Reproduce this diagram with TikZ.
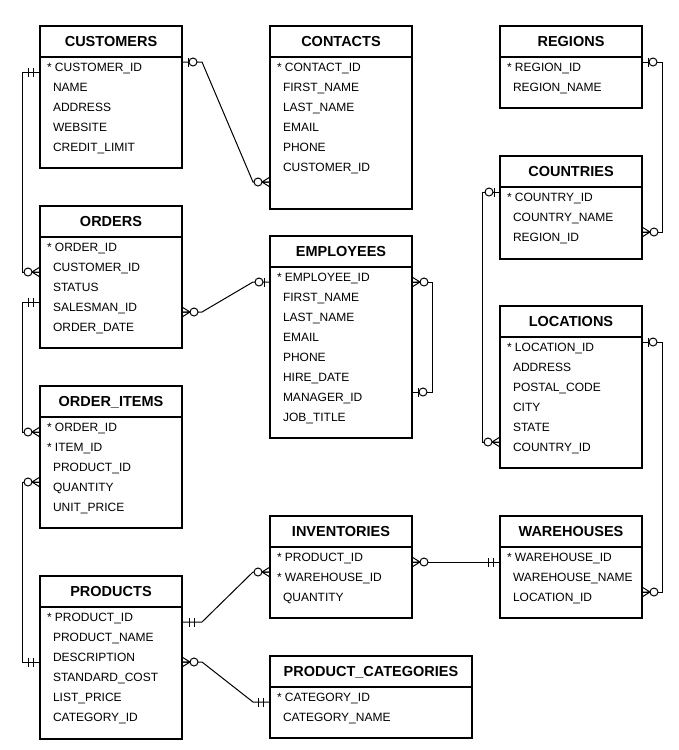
\documentclass[tikz,border=0pt]{standalone}
\usepackage{fontspec}
\setmainfont{Liberation Sans}
\usetikzlibrary{positioning,calc}

\newcommand{\clave}{{*}\ }
\newcommand{\campo}{\hspace*{6pt}}

\tikzset{
  titulo/.style={draw, line width=2pt, outer sep=0pt, inner sep=0pt, anchor=north west,
    minimum width=142pt, minimum height=31pt, text height=10.4pt, text depth=0pt,
    font=\fontsize{14.5}{16}\selectfont\bfseries},
  cuerpo/.style={draw, line width=2pt, outer sep=0pt, inner sep=0pt, minimum width=142pt},
  filas/.style={inner sep=0pt, outer sep=0pt, align=left, font=\fontsize{12}{20}\selectfont},
  rel/.style={line width=1pt},
  pics/muchos/.style={code={
    \draw[rel] (0,5) -- (8,0) -- (0,-5) (0,0) -- (8,0);
    \draw[rel, fill=white] (12,0) circle (4pt);
  }},
  pics/cerouno/.style={code={
    \draw[rel] (6,4.5) -- (6,-4.5);
    \draw[rel, fill=white] (11,0) circle (4pt);
  }},
  pics/unouno/.style={code={
    \draw[rel] (7,4.5) -- (7,-4.5) (12,4.5) -- (12,-4.5);
  }}
}

\begin{document}
\begin{tikzpicture}[x=1pt, y=-1pt]
        \useasboundingbox (0,0) rectangle (678,750);

        % Columna izquierda
        \node[titulo] (customers) at (40,26) {CUSTOMERS};
        \node[cuerpo, minimum height=111pt, below=0pt of customers] (customers-c) {};
        \node[filas, below right=6.5pt and 7pt of customers-c.north west] (customers-f)
            {\clave CUSTOMER\_ID\\ \campo NAME\\ \campo ADDRESS\\ \campo WEBSITE\\ \campo CREDIT\_LIMIT};

        \node[titulo] (orders) at (40,206) {ORDERS};
        \node[cuerpo, minimum height=111pt, below=0pt of orders] (orders-c) {};
        \node[filas, below right=6.5pt and 7pt of orders-c.north west] (orders-f)
            {\clave ORDER\_ID\\ \campo CUSTOMER\_ID\\ \campo STATUS\\ \campo SALESMAN\_ID\\ \campo ORDER\_DATE};

        \node[titulo] (orderitems) at (40,386) {ORDER\_ITEMS};
        \node[cuerpo, minimum height=111pt, below=0pt of orderitems] (orderitems-c) {};
        \node[filas, below right=6.5pt and 7pt of orderitems-c.north west] (orderitems-f)
            {\clave ORDER\_ID\\ \clave ITEM\_ID\\ \campo PRODUCT\_ID\\ \campo QUANTITY\\ \campo UNIT\_PRICE};

        \node[titulo] (products) at (40,576) {PRODUCTS};
        \node[cuerpo, minimum height=132pt, below=0pt of products] (products-c) {};
        \node[filas, below right=6.5pt and 7pt of products-c.north west] (products-f)
            {\clave PRODUCT\_ID\\ \campo PRODUCT\_NAME\\ \campo DESCRIPTION\\ \campo STANDARD\_COST\\ \campo LIST\_PRICE\\ \campo CATEGORY\_ID};

        % Columna central
        \node[titulo] (contacts) at (270,26) {CONTACTS};
        \node[cuerpo, minimum height=152pt, below=0pt of contacts] (contacts-c) {};
        \node[filas, below right=6.5pt and 7pt of contacts-c.north west] (contacts-f)
            {\clave CONTACT\_ID\\ \campo FIRST\_NAME\\ \campo LAST\_NAME\\ \campo EMAIL\\ \campo PHONE\\ \campo CUSTOMER\_ID};

        \node[titulo] (employees) at (270,236) {EMPLOYEES};
        \node[cuerpo, minimum height=171pt, below=0pt of employees] (employees-c) {};
        \node[filas, below right=6.5pt and 7pt of employees-c.north west] (employees-f)
            {\clave EMPLOYEE\_ID\\ \campo FIRST\_NAME\\ \campo LAST\_NAME\\ \campo EMAIL\\ \campo PHONE\\ \campo HIRE\_DATE\\ \campo MANAGER\_ID\\ \campo JOB\_TITLE};

        \node[titulo] (inventories) at (270,516) {INVENTORIES};
        \node[cuerpo, minimum height=71pt, below=0pt of inventories] (inventories-c) {};
        \node[filas, below right=6.5pt and 7pt of inventories-c.north west] (inventories-f)
            {\clave PRODUCT\_ID\\ \clave WAREHOUSE\_ID\\ \campo QUANTITY};

        \node[titulo, minimum width=202pt] (categories) at (270,656) {PRODUCT\_CATEGORIES};
        \node[cuerpo, minimum width=202pt, minimum height=51pt, below=0pt of categories] (categories-c) {};
        \node[filas, below right=6.5pt and 7pt of categories-c.north west] (categories-f)
            {\clave CATEGORY\_ID\\ \campo CATEGORY\_NAME};

        % Columna derecha
        \node[titulo] (regions) at (500,26) {REGIONS};
        \node[cuerpo, minimum height=51pt, below=0pt of regions] (regions-c) {};
        \node[filas, below right=6.5pt and 7pt of regions-c.north west] (regions-f)
            {\clave REGION\_ID\\ \campo REGION\_NAME};

        \node[titulo] (countries) at (500,156) {COUNTRIES};
        \node[cuerpo, minimum height=72pt, below=0pt of countries] (countries-c) {};
        \node[filas, below right=6.5pt and 7pt of countries-c.north west] (countries-f)
            {\clave COUNTRY\_ID\\ \campo COUNTRY\_NAME\\ \campo REGION\_ID};

        \node[titulo] (locations) at (500,306) {LOCATIONS};
        \node[cuerpo, minimum height=131pt, below=0pt of locations] (locations-c) {};
        \node[filas, below right=6.5pt and 7pt of locations-c.north west] (locations-f)
            {\clave LOCATION\_ID\\ \campo ADDRESS\\ \campo POSTAL\_CODE\\ \campo CITY\\ \campo STATE\\ \campo COUNTRY\_ID};

        \node[titulo] (warehouses) at (500,516) {WAREHOUSES};
        \node[cuerpo, minimum height=71pt, below=0pt of warehouses] (warehouses-c) {};
        \node[filas, below right=6.5pt and 7pt of warehouses-c.north west] (warehouses-f)
            {\clave WAREHOUSE\_ID\\ \campo WAREHOUSE\_NAME\\ \campo LOCATION\_ID};

        % Relaciones
        \draw[rel] ($(customers-c.north east)+(0,5)$) coordinate (r1a) -- ++(20,0)
            -- ($(contacts-c.north west)+(-17,125)$) -- ++(17,0) coordinate (r1b);
        \draw[rel] ($(customers-c.north west)+(0,15)$) coordinate (r2a) -- ++(-18,0)
            |- ($(orders-c.north west)+(0,35)$) coordinate (r2b);
        \draw[rel] ($(orders-c.north west)+(0,65)$) coordinate (r3a) -- ++(-18,0)
            |- ($(orderitems-c.north west)+(0,15)$) coordinate (r3b);
        \draw[rel] ($(orders-c.north east)+(0,75)$) coordinate (r4a) -- ++(20,0)
            -- ($(employees-c.north west)+(-17,15)$) -- ++(17,0) coordinate (r4b);
        \draw[rel] ($(employees-c.north east)+(0,15)$) coordinate (r5a) -- ++(20,0)
            |- ($(employees-c.north east)+(0,125)$) coordinate (r5b);
        \draw[rel] ($(regions-c.north east)+(0,5)$) coordinate (r6a) -- ++(20,0)
            |- ($(countries-c.north east)+(0,45)$) coordinate (r6b);
        \draw[rel] ($(countries-c.north west)+(0,5)$) coordinate (r7a) -- ++(-18,0)
            |- ($(locations-c.north west)+(0,105)$) coordinate (r7b);
        \draw[rel] ($(locations-c.north east)+(0,5)$) coordinate (r8a) -- ++(20,0)
            |- ($(warehouses-c.north east)+(0,45)$) coordinate (r8b);
        \draw[rel] ($(inventories-c.north east)+(0,15)$) coordinate (r9a)
            -- ($(warehouses-c.north west)+(0,15)$) coordinate (r9b);
        \draw[rel] ($(products-c.north east)+(0,15)$) coordinate (r10a) -- ++(20,0)
            -- ($(inventories-c.north west)+(-17,25)$) -- ++(17,0) coordinate (r10b);
        \draw[rel] ($(orderitems-c.north west)+(0,65)$) coordinate (r11a) -- ++(-18,0)
            |- ($(products-c.north west)+(0,55)$) coordinate (r11b);
        \draw[rel] ($(products-c.north east)+(0,55)$) coordinate (r12a) -- ++(20,0)
            -- ($(categories-c.north west)+(-17,15)$) -- ++(17,0) coordinate (r12b);

        % Cardinalidades
        \pic at (r1a) {cerouno};
        \pic[xscale=-1] at (r1b) {muchos};
        \pic[xscale=-1] at (r2a) {unouno};
        \pic[xscale=-1] at (r2b) {muchos};
        \pic[xscale=-1] at (r3a) {unouno};
        \pic[xscale=-1] at (r3b) {muchos};
        \pic at (r4a) {muchos};
        \pic[xscale=-1] at (r4b) {cerouno};
        \pic at (r5a) {muchos};
        \pic at (r5b) {cerouno};
        \pic at (r6a) {cerouno};
        \pic at (r6b) {muchos};
        \pic[xscale=-1] at (r7a) {cerouno};
        \pic[xscale=-1] at (r7b) {muchos};
        \pic at (r8a) {cerouno};
        \pic at (r8b) {muchos};
        \pic at (r9a) {muchos};
        \pic[xscale=-1] at (r9b) {unouno};
        \pic at (r10a) {unouno};
        \pic[xscale=-1] at (r10b) {muchos};
        \pic[xscale=-1] at (r11a) {muchos};
        \pic[xscale=-1] at (r11b) {unouno};
        \pic at (r12a) {muchos};
        \pic[xscale=-1] at (r12b) {unouno};
    \end{tikzpicture}
\end{document}
